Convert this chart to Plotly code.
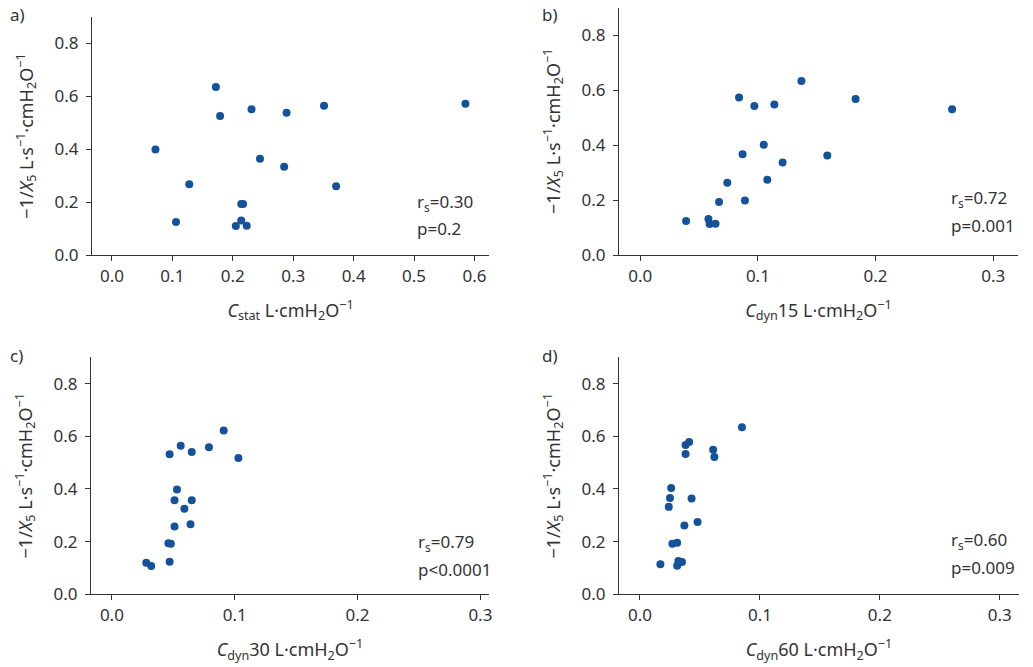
import plotly.graph_objects as go

# ---- data ----
# a) Cstat
a_x = [0.172, 0.231, 0.179, 0.289, 0.351, 0.585, 0.072, 0.245, 0.285, 0.128, 0.371,
       0.214, 0.217, 0.106, 0.214, 0.205, 0.223]
a_y = [0.635, 0.551, 0.526, 0.538, 0.564, 0.572, 0.399, 0.364, 0.334, 0.268, 0.260,
       0.193, 0.193, 0.125, 0.130, 0.110, 0.111]
# b) Cdyn15
b_x = [0.137, 0.084, 0.097, 0.114, 0.183, 0.265, 0.105, 0.087, 0.159, 0.121, 0.074,
       0.108, 0.067, 0.089, 0.039, 0.058, 0.059, 0.064]
b_y = [0.633, 0.573, 0.542, 0.547, 0.567, 0.530, 0.401, 0.366, 0.362, 0.336, 0.263,
       0.274, 0.193, 0.198, 0.124, 0.131, 0.113, 0.114]
# c) Cdyn30
c_x = [0.091, 0.056, 0.047, 0.065, 0.079, 0.103, 0.053, 0.051, 0.065, 0.059, 0.051,
       0.064, 0.046, 0.048, 0.047, 0.028, 0.032]
c_y = [0.622, 0.564, 0.532, 0.540, 0.558, 0.518, 0.398, 0.357, 0.357, 0.325, 0.257,
       0.266, 0.194, 0.192, 0.124, 0.120, 0.107]
# d) Cdyn60
d_x = [0.085, 0.041, 0.038, 0.038, 0.061, 0.062, 0.026, 0.025, 0.043, 0.024, 0.037,
       0.048, 0.027, 0.031, 0.017, 0.032, 0.035, 0.031]
d_y = [0.634, 0.578, 0.567, 0.533, 0.549, 0.521, 0.404, 0.366, 0.364, 0.332, 0.261,
       0.275, 0.192, 0.196, 0.114, 0.126, 0.123, 0.108]

panel_labels = ["a)", "b)", "c)", "d)"]
x_titles = ["<i>C</i><sub>stat</sub> L·cmH<sub>2</sub>O<sup>−1</sup>",
            "<i>C</i><sub>dyn</sub>15 L·cmH<sub>2</sub>O<sup>−1</sup>",
            "<i>C</i><sub>dyn</sub>30 L·cmH<sub>2</sub>O<sup>−1</sup>",
            "<i>C</i><sub>dyn</sub>60 L·cmH<sub>2</sub>O<sup>−1</sup>"]
y_title = "−1/<i>X</i><sub>5</sub> L·s<sup>−1</sup>·cmH<sub>2</sub>O<sup>−1</sup>"
r_texts = ["r<sub>s</sub>=0.30", "r<sub>s</sub>=0.72", "r<sub>s</sub>=0.79", "r<sub>s</sub>=0.60"]
p_texts = ["p=0.2", "p=0.001", "p<0.0001", "p=0.009"]
x_ticks_a = [0.0, 0.1, 0.2, 0.3, 0.4, 0.5, 0.6]
x_ticks_bcd = [0.0, 0.1, 0.2, 0.3]
y_ticks = [0.0, 0.2, 0.4, 0.6, 0.8]

W, H = 1033, 667
FONT = "Noto Sans"
TXT = "#333333"
MARK = "#15529c"

def px(x):
    return x / W

def py(y):
    return 1 - y / H

# layout geometry (pixels)
panels = [
    dict(xd=(92, 489), yd=(255, 17), xr=[-0.033, 0.624], xt=x_ticks_a,
         txt=(415, 202, 228), lab=(8, 15)),
    dict(xd=(619, 1018), yd=(255, 7.5), xr=[-0.018, 0.321], xt=x_ticks_bcd,
         txt=(949, 199, 225), lab=(540, 15)),
    dict(xd=(91, 489), yd=(594.3, 357.3), xr=[-0.017, 0.307], xt=x_ticks_bcd,
         txt=(416, 542, 569), lab=(8, 355)),
    dict(xd=(619, 1019), yd=(594.3, 357.3), xr=[-0.0175, 0.316], xt=x_ticks_bcd,
         txt=(949, 540, 567), lab=(540, 355)),
]
data = [(a_x, a_y), (b_x, b_y), (c_x, c_y), (d_x, d_y)]

fig = go.Figure()
layout = dict(width=W, height=H, margin=dict(l=0, r=0, t=0, b=0, autoexpand=False),
              paper_bgcolor="white", plot_bgcolor="white", showlegend=False,
              font=dict(family=FONT, size=17, color=TXT), annotations=[])

for i, (p, (xs, ys)) in enumerate(zip(panels, data)):
    n = "" if i == 0 else str(i + 1)
    fig.add_trace(go.Scatter(x=xs, y=ys, mode="markers", xaxis="x" + n, yaxis="y" + n,
                             marker=dict(color=MARK, size=8, line=dict(width=0)),
                             hoverinfo="skip"))
    axcommon = dict(showline=True, linecolor="#333333", linewidth=1.3, ticks="outside",
                    ticklen=5, tickwidth=1.2, tickcolor="#333333", showgrid=False,
                    zeroline=False, automargin=False,
                    tickfont=dict(family=FONT, size=17, color=TXT),
                    tickformat=".1f")
    layout["xaxis" + n] = dict(axcommon, domain=[px(p["xd"][0]), px(p["xd"][1])],
                               range=p["xr"], tickvals=p["xt"], anchor="y" + n,
                               title=dict(text=x_titles[i], standoff=18,
                                          font=dict(family=FONT, size=18, color=TXT)))
    layout["yaxis" + n] = dict(axcommon, domain=[py(p["yd"][0]), py(p["yd"][1])],
                               range=[0, 0.9], tickvals=y_ticks, anchor="x" + n,
                               ticklabelstandoff=4,
                               title=dict(text=y_title, standoff=16,
                                          font=dict(family=FONT, size=18, color=TXT)))
    tx, ty1, ty2 = p["txt"]
    layout["annotations"].append(dict(text=r_texts[i], x=px(tx), y=py(ty1), xref="paper",
                                      yref="paper", xanchor="left", yanchor="middle",
                                      showarrow=False, font=dict(size=17, color=TXT)))
    layout["annotations"].append(dict(text=p_texts[i], x=px(tx), y=py(ty2), xref="paper",
                                      yref="paper", xanchor="left", yanchor="middle",
                                      showarrow=False, font=dict(size=17, color=TXT)))
    lx, ly = p["lab"]
    layout["annotations"].append(dict(text=panel_labels[i], x=px(lx), y=py(ly), xref="paper",
                                      yref="paper", xanchor="left", yanchor="middle",
                                      showarrow=False, font=dict(size=17, color=TXT)))

fig.update_layout(**layout)
fig.write_html("out.html", config={"displayModeBar": False},
               post_script="document.body.style.margin='0';document.body.style.padding='0';")
